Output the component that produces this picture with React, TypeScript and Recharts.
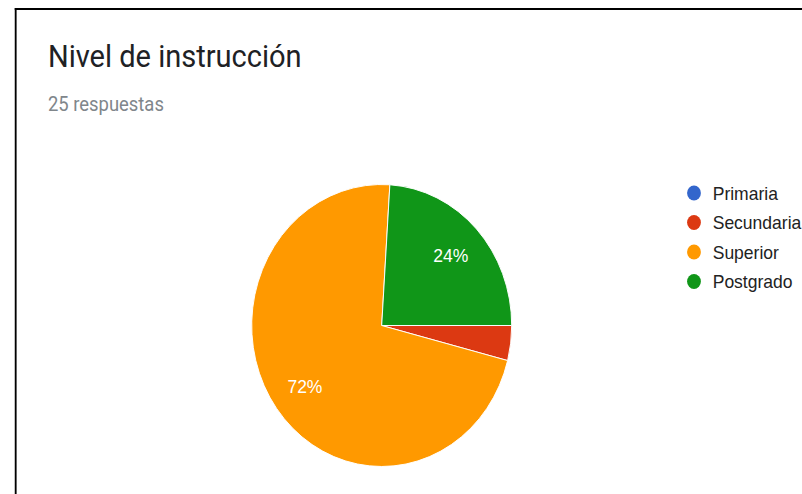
import React from 'react';
import { PieChart, Pie, Cell, Legend } from 'recharts';

const categories = ['Primaria', 'Secundaria', 'Superior', 'Postgrado'];
const counts = [0, 1, 18, 6];
const colors = ['#3366cc', '#dc3912', '#ff9900', '#109618'];
const title = 'Nivel de instrucción';
const subtitle = '25 respuestas';

const data = categories.map((name, i) => ({ name, value: counts[i] }));

// the source screenshot is squeezed horizontally, so we draw wide and scale x
const SCALE_X = 0.922;
const W = 870;
const H = 494;
const RADIAN = Math.PI / 180;

const renderLabel = (props: any) => {
  const { cx, cy, midAngle, outerRadius, percent } = props;
  if (percent < 0.05) return null;
  const r = outerRadius * 0.73;
  const x = cx + r * Math.cos(-midAngle * RADIAN);
  const y = cy + r * Math.sin(-midAngle * RADIAN);
  return (
    <text
      x={x}
      y={y}
      fill="#ffffff"
      textAnchor="middle"
      dominantBaseline="central"
      fontFamily="'Liberation Sans', Arial, sans-serif"
      fontSize={19}
    >
      {`${Math.round(percent * 100)}%`}
    </text>
  );
};

const renderLegend = () => (
  <svg width={130} height={120}>
    {categories.map((name, i) => {
      const cy = 15 + i * 29.5;
      return (
        <g key={name}>
          <circle cx={12.7} cy={cy} r={7.5} fill={colors[i]} />
          <text
            x={33}
            y={cy + 6.8}
            fill="#222222"
            fontFamily="'Liberation Sans', Arial, sans-serif"
            fontSize={19}
          >
            {name}
          </text>
        </g>
      );
    })}
  </svg>
);

export default function App() {
  return (
    <div style={{ position: 'absolute', left: 0, top: 0, width: 802, height: H, overflow: 'hidden', background: '#fff' }}>
      <div
        style={{
          position: 'absolute',
          left: 0,
          top: 0,
          width: W,
          height: H,
          transform: `scaleX(${SCALE_X})`,
          transformOrigin: '0 0',
        }}
      >
        <div
          style={{
            position: 'absolute',
            left: 16.3,
            top: 8,
            width: 1000,
            height: 600,
            borderTop: '2px solid #000',
            borderLeft: '2px solid #000',
          }}
        />
        <svg style={{ position: 'absolute', left: 0, top: 0 }} width={W} height={140}>
          <text x={52} y={67} fill="#202124" fontFamily="Roboto, sans-serif" fontSize={31.5}>
            {title}
          </text>
          <text x={52} y={111} fill="#80868b" fontFamily="Roboto, sans-serif" fontSize={20}>
            {subtitle}
          </text>
        </svg>
        <div style={{ position: 'absolute', left: 0, top: 0 }}>
          <PieChart width={W} height={H} margin={{ top: 0, right: 0, bottom: 0, left: 0 }}>
            <Pie
              data={data}
              dataKey="value"
              nameKey="name"
              cx={414}
              cy={325.5}
              outerRadius={141}
              startAngle={0}
              endAngle={-360}
              stroke="#ffffff"
              strokeWidth={1}
              label={renderLabel}
              labelLine={false}
              isAnimationActive={false}
            >
              {data.map((d, i) => (
                <Cell key={d.name} fill={colors[i]} />
              ))}
            </Pie>
            <Legend
              content={renderLegend}
              wrapperStyle={{ position: 'absolute', left: 740, top: 178, width: 130 }}
            />
          </PieChart>
        </div>
      </div>
    </div>
  );
}
